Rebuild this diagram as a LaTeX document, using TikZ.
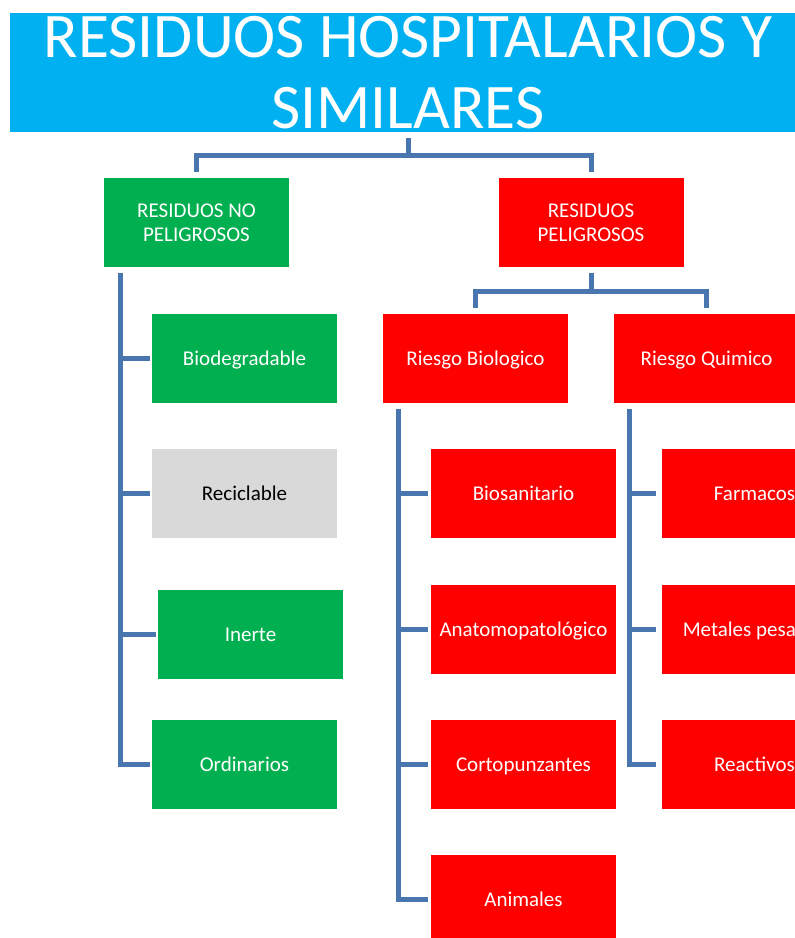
\documentclass[tikz,border=0pt]{standalone}
\usepackage{fontspec}
\setmainfont{Carlito}
\definecolor{cielo}{HTML}{00B0F0}
\definecolor{verde}{HTML}{00B050}
\definecolor{rojo}{HTML}{FF0000}
\definecolor{gris}{HTML}{D9D9D9}
\definecolor{linea}{HTML}{4A76B0}
\tikzset{
  caja/.style={minimum width=185pt, minimum height=89pt, inner sep=0pt,
    text=white, align=center, font=\fontsize{21}{24}\selectfont},
  hoja/.style={caja, text height=15pt, text depth=2pt},
  rama/.style={draw=linea, line width=5pt},
}
\begin{document}
\begin{tikzpicture}[x=1pt,y=-1pt]
                      \useasboundingbox (0,0) rectangle (795,938);
                      \clip (0,0) rectangle (795,938);

                      \node[fill=cielo, minimum width=796pt, minimum height=119pt, inner sep=0pt,
                        text=white, align=center, font=\fontsize{63.5}{71}\selectfont]
                        (titulo) at (408,72.5) {RESIDUOS HOSPITALARIOS Y\\SIMILARES};

                      \node[caja, fill=verde] (nopel) at (196.5,222.5) {RESIDUOS NO\\PELIGROSOS};
                      \node[caja, fill=rojo] (pel) at (591,222.5) {RESIDUOS\\PELIGROSOS};

                      \node[hoja, fill=verde] (biodeg) at (244.5,358.5) {Biodegradable};
                      \node[hoja, fill=gris, text=black] (recic) at (244.5,493.5) {Reciclable};
                      \node[hoja, fill=verde] (inerte) at (250.5,634.5) {Inerte};
                      \node[hoja, fill=verde] (ordin) at (244.5,764.5) {Ordinarios};

                      \node[hoja, fill=rojo] (biol) at (475.5,358.5) {Riesgo Biologico};
                      \node[hoja, fill=rojo] (quim) at (706.5,358.5) {Riesgo Quimico};

                      \node[hoja, fill=rojo] (biosan) at (523.5,493.5) {Biosanitario};
                      \node[hoja, fill=rojo] (anato) at (523.5,629.5) {Anatomopatológico};
                      \node[hoja, fill=rojo] (corto) at (523.5,764.5) {Cortopunzantes};
                      \node[hoja, fill=rojo] (anim) at (523.5,899.5) {Animales};

                      \node[hoja, fill=rojo] (farma) at (754.5,493.5) {Farmacos};
                      \node[hoja, fill=rojo] (metal) at (754.5,629.5) {Metales pesados};
                      \node[hoja, fill=rojo] (react) at (754.5,764.5) {Reactivos};

                      % ramas superiores
                      \draw[rama] ([yshift=-6pt]titulo.south) -- ++(0,17) -| ([yshift=6pt]nopel.north);
                      \draw[rama] ([yshift=-6pt]titulo.south) -- ++(0,17) -| ([yshift=6pt]pel.north);
                      \draw[rama] ([yshift=-6pt]pel.south) -- ++(0,18) -| ([yshift=6pt]biol.north);
                      \draw[rama] ([yshift=-6pt]pel.south) -- ++(0,18) -| ([yshift=6pt]quim.north);

                      % no peligrosos
                      \coordinate (ejeA) at ([xshift=17pt,yshift=-6pt]nopel.south west);
                      \draw[rama] (ejeA) |- ([xshift=-2pt]ordin.west);
                      \foreach \h in {biodeg,recic,inerte}
                        \draw[rama] (ejeA |- \h.west) -- ([xshift=-2pt]\h.west);

                      % riesgo biologico
                      \coordinate (ejeB) at ([xshift=16pt,yshift=-6pt]biol.south west);
                      \draw[rama] (ejeB) |- ([xshift=-3pt]anim.west);
                      \foreach \h in {biosan,anato,corto}
                        \draw[rama] (ejeB |- \h.west) -- ([xshift=-3pt]\h.west);

                      % riesgo quimico
                      \coordinate (ejeC) at ([xshift=16pt,yshift=-6pt]quim.south west);
                      \draw[rama] (ejeC) |- ([xshift=-6pt]react.west);
                      \foreach \h in {farma,metal}
                        \draw[rama] (ejeC |- \h.west) -- ([xshift=-6pt]\h.west);
                    \end{tikzpicture}
\end{document}
